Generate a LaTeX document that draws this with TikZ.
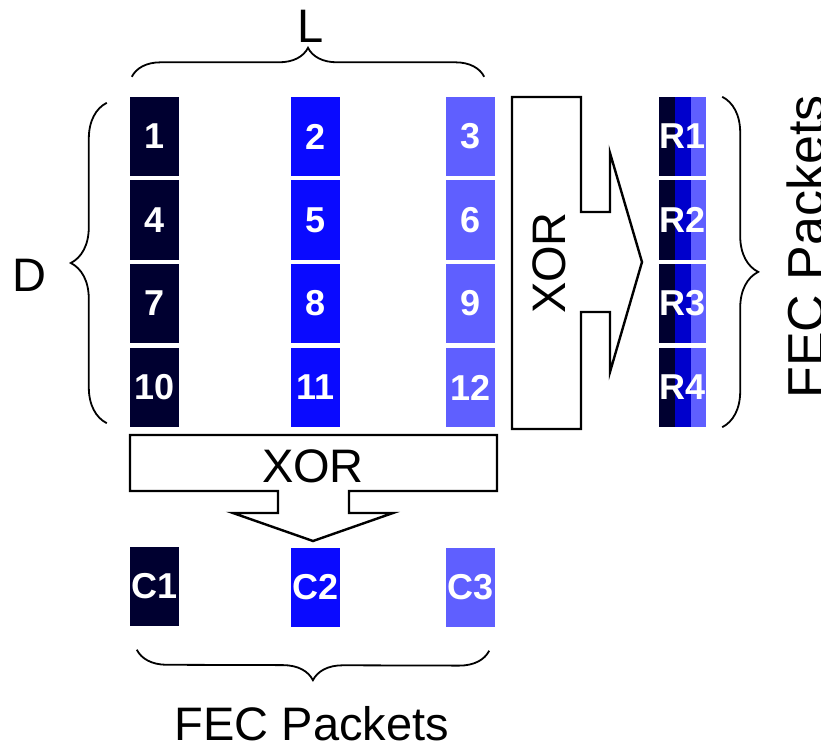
\documentclass[tikz,border=0pt]{standalone}
\usepackage{fontspec}
\setmainfont{Liberation Sans}
\usetikzlibrary{decorations.pathreplacing,calc}
\definecolor{navy}{RGB}{0,0,48}
\definecolor{pureblue}{RGB}{10,10,255}
\definecolor{paleblue}{RGB}{95,95,255}
\definecolor{midblue}{RGB}{0,0,204}

\begin{document}
\begin{tikzpicture}[x=1pt,y=-1pt,
  font=\fontsize{47}{52}\selectfont,
  cell/.style={minimum width=49pt,minimum height=79pt,inner sep=0pt,
    text=white,font=\bfseries\fontsize{36}{40}\selectfont},
  rcell/.style={cell,minimum width=47pt,fill=navy,
    path picture={
      \fill[midblue] ([xshift=16pt]path picture bounding box.south west)
        rectangle ([xshift=-15pt]path picture bounding box.north east);
      \fill[paleblue] ([xshift=-15pt]path picture bounding box.south east)
        rectangle (path picture bounding box.north east);}},
  xorshape/.style={draw=black,line width=2.4pt,fill=white,line join=miter},
  bracket/.style={decorate,decoration={brace,amplitude=30pt},line width=1.8pt}]
\useasboundingbox (0,0) rectangle (821,746);

% data packets
\node[cell,fill=navy] (n1) at (154.5,136.5) {1};
\node[cell,fill=pureblue] (n2) at (315.5,136.5) {2};
\node[cell,fill=paleblue] (n3) at (470.5,136.5) {3};
\node[cell,fill=navy] (n4) at (154.5,220) {4};
\node[cell,fill=pureblue] (n5) at (315.5,220) {5};
\node[cell,fill=paleblue] (n6) at (470.5,220) {6};
\node[cell,fill=navy] (n7) at (154.5,303.5) {7};
\node[cell,fill=pureblue] (n8) at (315.5,303.5) {8};
\node[cell,fill=paleblue] (n9) at (470.5,303.5) {9};
\node[cell,fill=navy] (n10) at (154.5,387.5) {10};
\node[cell,fill=pureblue] (n11) at (315.5,387.5) {11};
\node[cell,fill=paleblue] (n12) at (470.5,387.5) {12};

% row FEC packets
\node[rcell] (r1) at (682.5,136.5) {R1};
\node[rcell] (r2) at (682.5,220) {R2};
\node[rcell] (r3) at (682.5,303.5) {R3};
\node[rcell] (r4) at (682.5,387.5) {R4};

% column FEC packets
\node[cell,fill=navy] (c1) at (154.5,586) {C1};
\node[cell,fill=pureblue] (c2) at (315.5,587) {C2};
\node[cell,fill=paleblue] (c3) at (470.5,587) {C3};

% XOR block arrows
\draw[xorshape] (512,97)--(581,97)--(581,212)--(610,212)--(610,153)--(642,262)
  --(610,372)--(610,312)--(581,312)--(581,429)--(512,429)--cycle;
\node[rotate=90,anchor=base,inner sep=0pt] (xorrow) at (565,263) {XOR};
\draw[xorshape] (130,435)--(497,435)--(497,491)--(349,491)--(349,513)--(393,513)
  --(313,541)--(233,513)--(278,513)--(278,491)--(130,491)--cycle;
\node[anchor=base,inner sep=0pt] (xorcol) at (313,482) {XOR};

% braces
\draw[bracket,decoration={amplitude=29pt}] ([xshift=2pt,yshift=20pt]n1.north west)
  --([xshift=-11pt,yshift=20pt]n3.north east);
\node[anchor=base,inner sep=0pt] (lbl_l) at (311,43) {L};
\draw[bracket,decoration={amplitude=36pt}] ([xshift=-23pt,yshift=4pt]n10.south west)
  --([xshift=-23pt,yshift=-6pt]n1.north west);
\node[anchor=base,inner sep=0pt] (lbl_d) at (29,291) {D};
\draw[bracket,decoration={amplitude=36pt,aspect=0.53}] ([xshift=16pt]r1.north east)
  --([xshift=16pt]r4.south east);
\node[rotate=90,anchor=base,inner sep=0pt,font=\fontsize{52}{56}\selectfont]
  (lbl_rfec) at (824,247) {FEC Packets};
\draw[bracket] ([xshift=-6pt,yshift=-24pt]c3.south east)
  --([xshift=7pt,yshift=-24pt]c1.south west);
\node[anchor=base,inner sep=0pt] (lbl_cfec) at (312,740) {FEC Packets};
\end{tikzpicture}
\end{document}
